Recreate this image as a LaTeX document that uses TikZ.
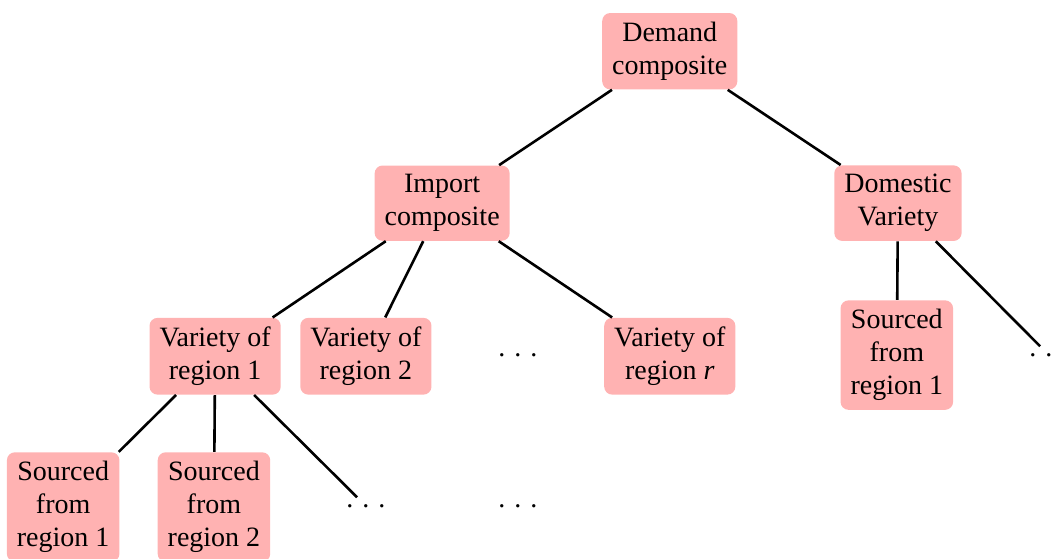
\documentclass[tikz,border=0pt]{standalone}
\usepackage{fontspec}
\setmainfont{Liberation Serif}
\usetikzlibrary{positioning}
\definecolor{cpink}{RGB}{255,178,178}
\newcommand{\gapdots}{.\kern4.5pt.\kern4.5pt.}

\begin{document}
\begin{tikzpicture}[
    box/.style={fill=cpink, rounded corners=4pt, inner xsep=5pt, inner ysep=4.5pt,
                font=\fontsize{14}{16.5}\selectfont, align=center},
    gap/.style={font=\fontsize{14}{16.5}\selectfont},
    link/.style={line width=1.3pt, color=black},
  ]
  \useasboundingbox (0,0) rectangle (18.61,-9.806);

  %% Top level
  \node[box] (demand) at (11.77, -0.90) {Demand\\composite};

  %% Second level
  \node[box] (import)   at (7.77, -3.57)  {Import\\composite};
  \node[box] (domestic) at (15.78, -3.57) {Domestic\\Variety};

  %% Third level
  \node[box] (var1) at (3.78, -6.26)  {Variety of\\region 1};
  \node[box] (var2) at (6.43, -6.26)  {Variety of\\region 2};
  \node[gap] (vardots) at (9.10, -6.238) {\gapdots};
  \node[box] (varr) at (11.77, -6.26) {Variety of\\region \textit{r}};
  \node[box] (domsrc1) at (15.76, -6.24) {Sourced\\from\\region 1};
  \node[gap] (domdots) at (18.43, -6.238) {\gapdots};

  %% Bottom level
  \node[box] (src1) at (1.11, -8.91) {Sourced\\from\\region 1};
  \node[box] (src2) at (3.76, -8.91) {Sourced\\from\\region 2};
  \node[gap] (srcdots) at (6.43, -8.892) {\gapdots};
  \node[gap] (lowdots) at (9.10, -8.892) {\gapdots};

  %% Links
  \draw[link] (demand)   -- (import);
  \draw[link] (demand)   -- (domestic);
  \draw[link] (import)   -- (var1);
  \draw[link] (import)   -- (var2);
  \draw[link] (import)   -- (varr);
  \draw[link] (domestic) -- (domsrc1);
  \draw[link] (domestic) -- (domdots);
  \draw[link] (var1)     -- (src1);
  \draw[link] (var1)     -- (src2);
  \draw[link] (var1)     -- (srcdots);

\end{tikzpicture}
\end{document}
